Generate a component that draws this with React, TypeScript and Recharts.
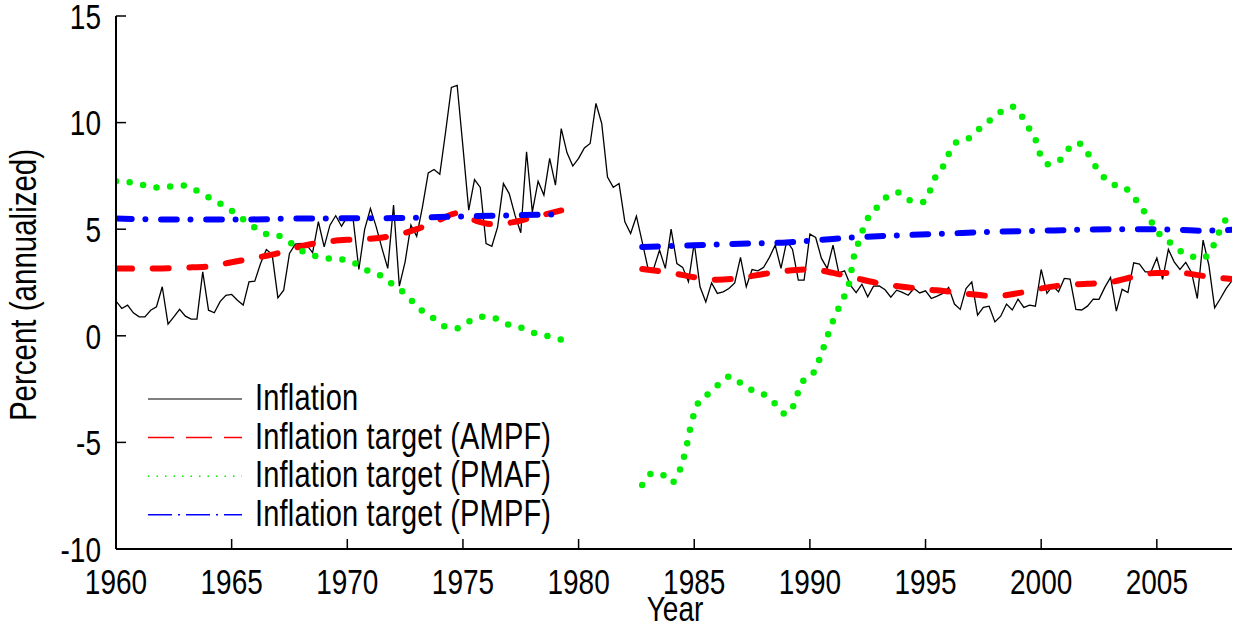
import React from "react";
import { LineChart, Line, XAxis, YAxis } from "recharts";

// quarterly inflation, 1960Q1 .. 2008Q2
const START_YEAR = 1960;
const inflation = [
  1.63, 1.28, 1.44, 1.08, 0.89, 0.89, 1.2, 1.36, 2.3, 0.55, 0.89, 1.24,
  0.92, 0.78, 0.78, 3.0, 1.2, 1.08, 1.6, 1.9, 1.94, 1.67, 1.44, 2.53,
  2.56, 3.39, 4.05, 3.82, 1.78, 2.14, 3.86, 4.3, 4.33, 4.25, 3.9, 5.35,
  4.17, 5.19, 5.63, 5.14, 5.58, 5.5, 3.11, 4.99, 5.97, 5.11, 4.1, 3.16,
  6.13, 2.33, 3.47, 5.19, 4.67, 6.05, 7.64, 7.8, 7.58, 9.56, 11.65, 11.75,
  8.86, 5.89, 7.33, 6.96, 4.33, 4.2, 5.11, 7.14, 6.67, 5.66, 4.83, 8.63,
  5.81, 7.25, 6.6, 8.32, 7.07, 9.72, 8.58, 7.96, 8.32, 8.81, 9.02, 10.9,
  9.96, 7.45, 6.96, 7.14, 5.35, 4.8, 5.61, 4.41, 3.16, 3.16, 4.02, 3.16,
  5.0, 3.39, 3.21, 2.53, 4.36, 2.3, 1.59, 2.48, 1.99, 2.06, 2.22, 2.48,
  3.68, 2.3, 3.11, 3.05, 3.21, 3.68, 4.25, 3.16, 4.45, 4.05, 2.61, 2.61,
  4.77, 4.61, 3.63, 3.16, 4.25, 2.95, 3.05, 2.38, 2.02, 2.42, 1.83, 2.33,
  2.34, 2.16, 1.81, 2.14, 2.04, 1.9, 2.22, 2.01, 2.11, 1.75, 1.86, 1.99,
  2.27, 1.49, 1.24, 2.22, 2.53, 0.97, 1.33, 1.39, 0.65, 0.92, 1.49, 1.21,
  1.72, 1.33, 1.44, 1.39, 3.11, 1.99, 2.35, 2.06, 2.69, 2.66, 1.24, 1.21,
  1.39, 1.72, 1.71, 2.27, 2.74, 1.16, 2.18, 2.03, 3.42, 3.36, 3.0, 3.0,
  3.65, 2.65, 4.05, 3.47, 3.11, 3.44, 2.97, 1.75, 4.49, 3.31, 1.31, 1.75,
  2.22, 2.58,
];

// Inflation target (AMPF)
const ampfYearsEarly = [1960, 1961, 1962, 1963, 1964, 1965, 1966, 1967, 1968, 1969, 1970, 1971, 1972, 1973, 1974, 1974.75, 1975.5, 1976.25, 1977, 1978, 1979.25];
const ampfEarly = [3.16, 3.15, 3.16, 3.2, 3.25, 3.45, 3.65, 3.87, 4.2, 4.4, 4.5, 4.55, 4.7, 5.0, 5.45, 5.75, 5.42, 5.24, 5.3, 5.55, 5.88];
const ampfYearsLate = [1982.75, 1984, 1985, 1986, 1987, 1988, 1989, 1990, 1991, 1992, 1993, 1994, 1995, 1996, 1997, 1998, 1999, 2000, 2001, 2002, 2003, 2004, 2005, 2006, 2007, 2008.25];
const ampfLate = [3.13, 2.95, 2.75, 2.63, 2.72, 2.9, 3.05, 3.12, 2.95, 2.7, 2.46, 2.3, 2.18, 2.08, 1.95, 1.86, 2.0, 2.22, 2.38, 2.44, 2.52, 2.77, 2.95, 2.95, 2.81, 2.66];

// Inflation target (PMAF)
const pmafYearsEarly = [1960, 1960.6, 1961.2, 1961.7, 1962.3, 1962.9, 1963.5, 1964, 1964.5, 1965, 1965.5, 1966, 1966.5, 1967, 1967.5, 1968, 1968.6, 1969.2, 1969.8, 1970.3, 1970.8, 1971.4, 1971.9, 1972.4, 1972.8, 1973.2, 1973.7, 1974.2, 1974.75, 1975.3, 1975.8, 1976.4, 1976.9, 1977.5, 1978, 1978.6, 1979.25];
const pmafEarly = [7.25, 7.2, 7.07, 6.95, 7.0, 7.05, 6.8, 6.5, 6.2, 5.86, 5.47, 5.08, 4.77, 4.7, 4.4, 4.0, 3.75, 3.63, 3.58, 3.42, 3.1, 2.85, 2.46, 2.06, 1.63, 1.2, 0.84, 0.45, 0.35, 0.69, 0.89, 0.82, 0.55, 0.39, 0.16, 0.0, -0.18];
const pmafYearsLate = [1982.75, 1983.2, 1983.6, 1984, 1984.3, 1984.6, 1984.9, 1985.25, 1985.8, 1986.2, 1986.6, 1987.1, 1987.6, 1988.1, 1988.6, 1988.9, 1989.15, 1989.4, 1989.8, 1990.16, 1990.4, 1990.6, 1990.8, 1991, 1991.25, 1991.5, 1991.7, 1991.9, 1992.1, 1992.3, 1992.55, 1992.9, 1993.33, 1993.8, 1994.3, 1994.9, 1995.2, 1995.4, 1995.75, 1996, 1996.3, 1996.85, 1997.3, 1997.75, 1998.25, 1998.77, 1999.2, 1999.5, 1999.78, 1999.95, 2000.3, 2000.73, 2001.1, 2001.58, 2001.95, 2002.25, 2002.6, 2003, 2003.6, 2004, 2004.33, 2004.7, 2005, 2005.45, 2005.9, 2006.4, 2006.9, 2007.3, 2007.53, 2007.8, 2008.1, 2008.25];
const pmafLate = [-7.0, -6.45, -6.5, -6.9, -6.5, -5.5, -4.0, -3.0, -2.6, -2.1, -1.9, -2.3, -2.6, -2.8, -3.3, -3.65, -3.6, -2.9, -1.97, -1.73, -1.14, -0.52, 0.11, 0.7, 1.31, 1.88, 2.48, 3.7, 4.38, 4.99, 5.61, 6.02, 6.52, 6.72, 6.36, 6.28, 6.83, 7.38, 7.92, 8.52, 9.05, 9.25, 9.68, 10.08, 10.5, 10.74, 10.24, 9.68, 9.13, 8.52, 8.05, 8.16, 8.67, 9.05, 8.67, 8.11, 7.58, 7.15, 6.96, 6.52, 6.0, 5.47, 4.92, 4.49, 4.06, 3.78, 3.63, 3.89, 4.45, 5.11, 5.66, 5.9];

// Inflation target (PMPF)
const pmpfYearsEarly = [1960, 1962, 1965, 1968, 1972, 1975, 1979.25];
const pmpfEarly = [5.5, 5.46, 5.45, 5.5, 5.52, 5.6, 5.7];
const pmpfYearsLate = [1982.75, 1985, 1987, 1989, 1990.5, 1992, 1994, 1996, 1998, 2000, 2002, 2004, 2006, 2007, 2008.25];
const pmpfLate = [4.17, 4.25, 4.32, 4.38, 4.5, 4.62, 4.72, 4.8, 4.88, 4.93, 4.98, 5.0, 4.97, 4.93, 4.97];

const xTicks = [1960, 1965, 1970, 1975, 1980, 1985, 1990, 1995, 2000, 2005];
const yTicks = [-10, -5, 0, 5, 10, 15];
const legendLabels = ["Inflation", "Inflation target (AMPF)", "Inflation target (PMAF)", "Inflation target (PMPF)"];

const inflationData = inflation.map((v, i) => ({ year: START_YEAR + i / 4, v }));
const toPoints = (years: number[], values: number[]) => years.map((year, i) => ({ year, v: values[i] }));

const FONT = "'Liberation Sans', Arial, sans-serif";
const STRETCH = 1.28;
const RED = { stroke: "#ff0000", strokeWidth: 6, strokeDasharray: "16 20.7", strokeLinecap: "round" as const };
const GREEN = { stroke: "#00ee00", strokeWidth: 6.5, strokeDasharray: "0 13.7", strokeLinecap: "round" as const };
const BLUE = { stroke: "#0000ff", strokeWidth: 6, strokeDasharray: "15.7 13.7 0 15.7", strokeLinecap: "round" as const };

const targets = [
  { key: "ampf-a", data: toPoints(ampfYearsEarly, ampfEarly), style: RED },
  { key: "ampf-b", data: toPoints(ampfYearsLate, ampfLate), style: RED },
  { key: "pmaf-a", data: toPoints(pmafYearsEarly, pmafEarly), style: GREEN },
  { key: "pmaf-b", data: toPoints(pmafYearsLate, pmafLate), style: GREEN },
  { key: "pmpf-a", data: toPoints(pmpfYearsEarly, pmpfEarly), style: BLUE },
  { key: "pmpf-b", data: toPoints(pmpfYearsLate, pmpfLate), style: BLUE },
];

// text drawn a bit taller than wide, like the original figure
function Stretched({ x, y, anchor = "middle", size = 28, spacing = 0, children }: any) {
  return (
    <g transform={`translate(${x},${y}) scale(1,${STRETCH})`}>
      <text textAnchor={anchor} fontSize={size} letterSpacing={spacing} fontFamily={FONT} fill="#000">
        {children}
      </text>
    </g>
  );
}

const XTick = ({ x, y, payload }: any) => <Stretched x={x} y={y}>{payload.value}</Stretched>;
const YTick = ({ x, y, payload }: any) => (
  <Stretched x={x} y={y + 12.8} anchor="end">{payload.value}</Stretched>
);

const axisLine = { stroke: "#000", strokeWidth: 2 };
const tickLine = { stroke: "#000", strokeWidth: 1.5 };

function LegendBox() {
  const samples = [
    { stroke: "#000", strokeWidth: 1.2 },
    { stroke: "#ff0000", strokeWidth: 1.5, strokeDasharray: "26 12" },
    { stroke: "#00ee00", strokeWidth: 1.5, strokeDasharray: "1.5 7" },
    { stroke: "#0000ff", strokeWidth: 1.5, strokeDasharray: "24 6 2 6" },
  ];
  return (
    <svg width={440} height={170} style={{ position: "absolute", left: 140, top: 375, pointerEvents: "none" }}>
      {legendLabels.map((label, i) => {
        const cy = 24 + i * 38.6;
        return (
          <g key={label}>
            <line x1={8} x2={102} y1={cy} y2={cy} {...samples[i]} />
            <Stretched x={115} y={cy + 11} anchor="start" size={29} spacing={0.2}>{label}</Stretched>
          </g>
        );
      })}
    </svg>
  );
}

export default function App() {
  return (
    <div style={{ position: "absolute", left: 0, top: 0, width: 1238, height: 630, background: "#fff" }}>
      <LineChart width={1238} height={630} data={inflationData} margin={{ top: 16, right: 6, bottom: 0, left: 0 }}>
        <XAxis
          xAxisId="b"
          dataKey="year"
          type="number"
          domain={[1960, 2008.25]}
          ticks={xTicks}
          interval={0}
          allowDataOverflow
          height={81}
          tickSize={-10}
          tickMargin={55}
          axisLine={axisLine}
          tickLine={tickLine}
          tick={<XTick />}
          label={{ content: () => <Stretched x={675} y={621}>Year</Stretched> }}
        />
        <XAxis
          xAxisId="t"
          orientation="top"
          dataKey="year"
          type="number"
          domain={[1960, 2008.25]}
          ticks={xTicks}
          interval={0}
          allowDataOverflow
          height={0}
          tickSize={-10}
          axisLine={axisLine}
          tickLine={tickLine}
          tick={false}
        />
        <YAxis
          yAxisId="l"
          type="number"
          domain={[-10, 15]}
          ticks={yTicks}
          interval={0}
          allowDataOverflow
          width={116}
          tickSize={-10}
          tickMargin={25}
          axisLine={axisLine}
          tickLine={tickLine}
          tick={<YTick />}
          label={{
            content: () => (
              <g transform="translate(36,285) rotate(-90) scale(1,1.28)">
                <text textAnchor="middle" fontSize={29.5} fontFamily={FONT} fill="#000">
                  Percent (annualized)
                </text>
              </g>
            ),
          }}
        />
        <YAxis
          yAxisId="r"
          orientation="right"
          type="number"
          domain={[-10, 15]}
          ticks={yTicks}
          interval={0}
          allowDataOverflow
          width={0}
          tickSize={-10}
          axisLine={axisLine}
          tickLine={tickLine}
          tick={false}
        />
        <Line
          xAxisId="b"
          yAxisId="l"
          dataKey="v"
          type="linear"
          stroke="#000"
          strokeWidth={1.3}
          dot={false}
          isAnimationActive={false}
        />
        {targets.map((t) => (
          <Line
            key={t.key}
            xAxisId="b"
            yAxisId="l"
            data={t.data}
            dataKey="v"
            type="monotone"
            dot={false}
            isAnimationActive={false}
            {...t.style}
          />
        ))}
      </LineChart>
      <LegendBox />
    </div>
  );
}
